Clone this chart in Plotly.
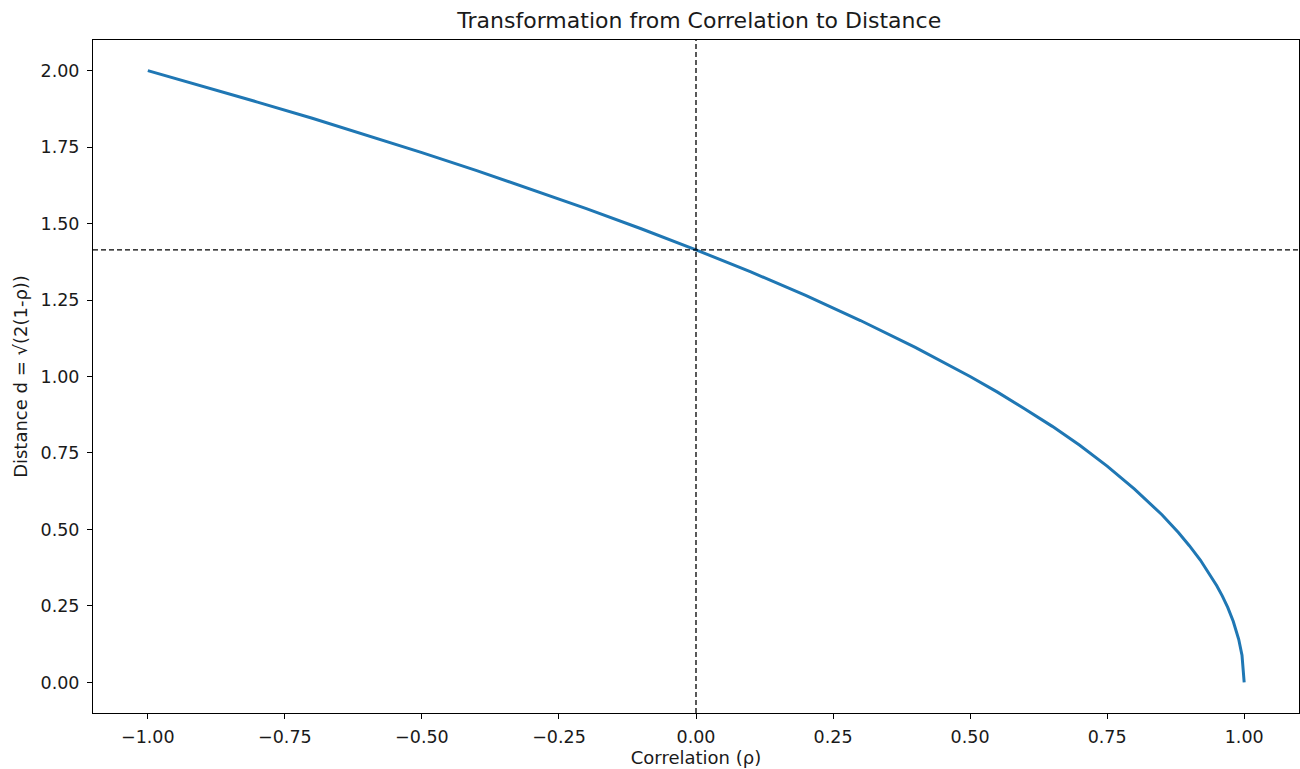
import plotly.graph_objects as go

# Values
rho = [-1.0, -0.9, -0.8, -0.7, -0.6, -0.5, -0.4, -0.3, -0.2, -0.1, 0.0,
       0.1, 0.2, 0.3, 0.4, 0.5, 0.55, 0.6, 0.65, 0.7, 0.75, 0.8, 0.85, 0.88,
       0.9, 0.92, 0.94, 0.95, 0.96, 0.97, 0.98, 0.985, 0.99, 0.996, 1.0]
dist = [2.0, 1.949, 1.897, 1.844, 1.789, 1.732, 1.673, 1.612, 1.549, 1.483, 1.414,
        1.342, 1.265, 1.183, 1.095, 1.0, 0.949, 0.894, 0.837, 0.775, 0.707, 0.632, 0.548, 0.490,
        0.447, 0.400, 0.346, 0.316, 0.283, 0.245, 0.200, 0.173, 0.141, 0.089, 0.0]

ref_x = 0.0
ref_y = 1.414

x_ticks = [-1.0, -0.75, -0.5, -0.25, 0.0, 0.25, 0.5, 0.75, 1.0]
y_ticks = [0.0, 0.25, 0.5, 0.75, 1.0, 1.25, 1.5, 1.75, 2.0]

FONT = "DejaVu Sans"
TXT = "#1a1a1a"

fig = go.Figure()
fig.add_trace(go.Scatter(x=rho, y=dist, mode="lines",
                         line=dict(color="#1f77b4", width=3), showlegend=False))

fig.add_shape(type="line", xref="x", yref="paper", x0=ref_x, x1=ref_x, y0=0, y1=1,
              line=dict(color="black", width=1.3, dash="5px,3px"))
fig.add_shape(type="line", xref="paper", yref="y", x0=0, x1=1, y0=ref_y, y1=ref_y,
              line=dict(color="black", width=1.3, dash="5px,3px"))

axis_common = dict(showline=True, mirror=True, linecolor="black", linewidth=1,
                   ticks="outside", ticklen=5, tickcolor="black", tickwidth=1,
                   showgrid=False, zeroline=False,
                   tickfont=dict(family=FONT, size=17.5, color=TXT))

fig.update_xaxes(range=[-1.1, 1.1], tickvals=x_ticks, tickformat=".2f",
                 ticklabelstandoff=3,
                 title=dict(text="Correlation (ρ)", font=dict(family=FONT, size=18, color=TXT),
                            standoff=2),
                 **axis_common)
fig.update_yaxes(range=[-0.1, 2.1], tickvals=y_ticks, tickformat=".2f",
                 ticklabelstandoff=4,
                 title=dict(text="Distance d = √(2(1-ρ))", font=dict(family=FONT, size=18, color=TXT),
                            standoff=8),
                 **axis_common)

fig.update_layout(
    width=1300, height=769,
    margin=dict(l=93, r=1, t=40, b=56),
    plot_bgcolor="white", paper_bgcolor="white",
    title=dict(text="Transformation from Correlation to Distance", x=0.5379, xanchor="center",
               y=0.974, yanchor="middle",
               font=dict(family=FONT, size=22, color=TXT)),
)

fig.write_html("out.html", config={"displayModeBar": False},
               post_script="document.body.style.margin='0';document.body.style.overflow='hidden';")
